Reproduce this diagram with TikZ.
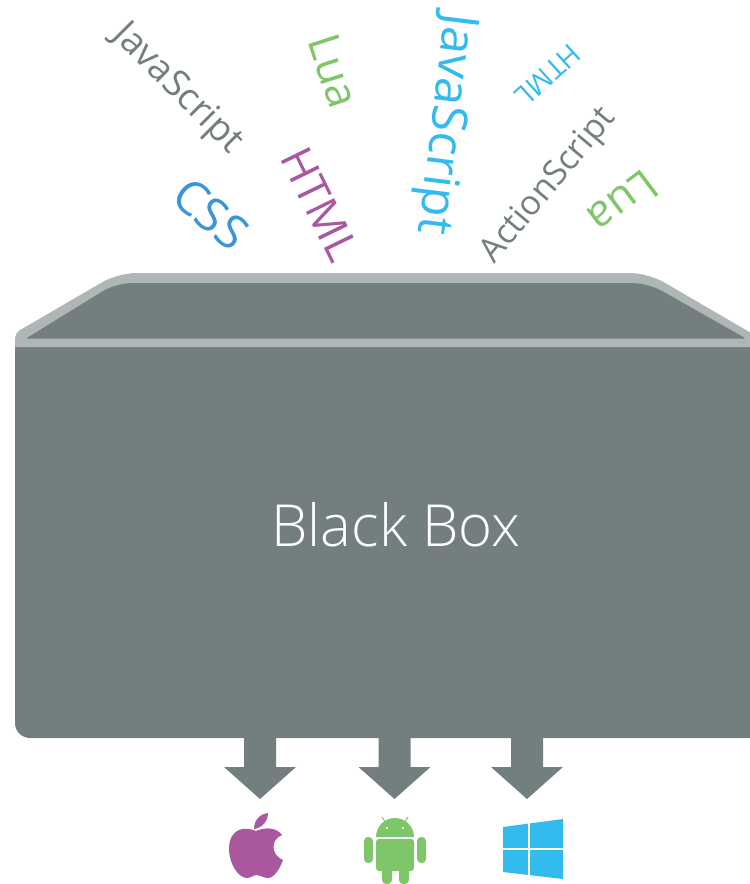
\documentclass[tikz,border=0pt]{standalone}
\usepackage{fontspec}
\setmainfont{Open Sans}
\newfontfamily\thinfont{Open Sans}[UprightFont=* Light]
\definecolor{boxgray}{HTML}{737F7F}
\definecolor{rimgray}{HTML}{AEB7B5}
\definecolor{wordblue}{HTML}{33BBEE}
\definecolor{cssblue}{HTML}{3A96D6}
\definecolor{wordgreen}{HTML}{7FC66A}
\definecolor{wordpurple}{HTML}{A9579F}
\tikzset{
  word/.style={inner sep=0pt,anchor=center},
  grayword/.style={word,text=boxgray},
  blueword/.style={word,text=wordblue},
  greenword/.style={word,text=wordgreen},
}
\newcommand{\wordsize}[1]{\fontsize{#1}{#1}\selectfont}
\begin{document}
\begin{tikzpicture}[x=1pt,y=-1pt]
\useasboundingbox (0,0) rectangle (750,884);
% words falling in
\node[grayword,rotate=-45] (jsgray) at (177,89) {\wordsize{37}JavaScript};
\node[greenword,rotate=-72] (luatop) at (334,71) {\wordsize{44}Lua};
\node[blueword,rotate=-97] (jsblue) at (444,124) {\wordsize{49}JavaScript};
\node[blueword,rotate=222] (htmlblue) at (548,75) {\wordsize{28}HTML};
\node[grayword,rotate=50] (actionscript) at (549,186) {\wordsize{34}ActionScript};
\node[greenword,rotate=217] (luaright) at (623,202) {\wordsize{44}Lua};
\node[word,text=cssblue,rotate=-40] (css) at (211,214) {\wordsize{47}CSS};
\node[word,text=wordpurple,rotate=-64] (htmlpurple) at (320,204) {\wordsize{44}HTML};
% the box
\fill[boxgray,rounded corners=15pt] (15,345) -- (15,738) -- (790,738) -- (790,345) [sharp corners] -- cycle;
\fill[rimgray,rounded corners=18pt] (15,347) [rounded corners=6pt] -- (15,333) [rounded corners=18pt] -- (118,273) -- (648,273) -- (770,344) [sharp corners] -- (770,347) -- cycle;
\fill[boxgray,rounded corners=16pt] (28,338.5) [rounded corners=2pt] -- (26,338.5) [rounded corners=16pt] -- (116,283) -- (648,283) [rounded corners=2pt] -- (746,338.5) -- cycle;
\node[word,text=white] (blackbox) at (396,525) {\thinfont\wordsize{58}Black Box};
% arrows out of the box
\foreach \x in {260,394.5,527} {
  \fill[boxgray] (\x-16,730) -- (\x-16,767) -- (\x-36,767) -- (\x,799) -- (\x+36,767) -- (\x+16,767) -- (\x+16,730) -- cycle;
}
% apple
\fill[wordpurple] (256,831) .. controls (245,826) and (229,828) .. (229,849)
  .. controls (229,863) and (238,878) .. (247,878)
  .. controls (251,878) and (253,875) .. (257,875)
  .. controls (261,875) and (263,878) .. (268,878)
  .. controls (275,878) and (281,866) .. (283,860)
  .. controls (271,855) and (270,840) .. (282,835)
  .. controls (276,827) and (265,827) .. (256,831) -- cycle;
\fill[wordpurple] (254,829) .. controls (254,820) and (260,814) .. (268,813)
  .. controls (268,821) and (262,828) .. (254,829) -- cycle;
% android
\draw[wordgreen,line width=1pt] (382,817) -- (387,825) (408,817) -- (403,825);
\fill[wordgreen] (376,837) arc[start angle=180,end angle=360,radius=19];
\fill[white] (387,828) circle[radius=1.2] (403,828) circle[radius=1.2];
\fill[wordgreen,rounded corners=3pt] (376,839) -- (414,839) -- (414,871) -- (376,871) -- cycle;
\fill[wordgreen,rounded corners=4pt] (364,837) rectangle (373,863);
\fill[wordgreen,rounded corners=4pt] (417,837) rectangle (426,863);
\fill[wordgreen,rounded corners=4pt] (382,860) rectangle (392,884);
\fill[wordgreen,rounded corners=4pt] (399,860) rectangle (409,884);
% windows
\fill[wordblue] (503,827) -- (563,819) -- (563,879) -- (503,872) -- cycle;
\draw[white,line width=1.2pt] (529,822) -- (529,877) (502,849) -- (564,849);
\end{tikzpicture}
\end{document}
